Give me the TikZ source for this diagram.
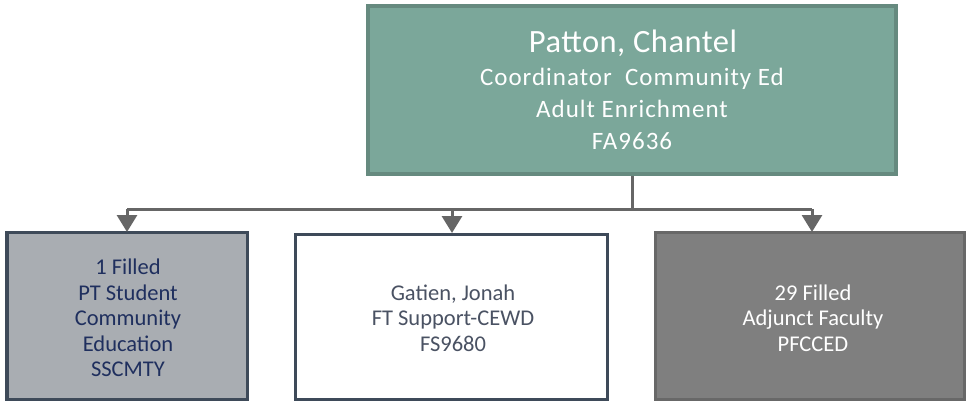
\documentclass[tikz,border=0pt]{standalone}
\usepackage{fontspec}
\setmainfont{Carlito}
\usetikzlibrary{arrows.meta}
\definecolor{topfill}{HTML}{7BA79A}
\definecolor{topline}{HTML}{668A7F}
\definecolor{boxline}{HTML}{3E4A59}
\definecolor{greyfill}{HTML}{A9ADB2}
\definecolor{darkfill}{HTML}{7F7F7F}
\definecolor{darkline}{HTML}{686868}
\definecolor{navytext}{HTML}{1F2F5E}
\definecolor{slatetext}{HTML}{4A5263}
\definecolor{conn}{HTML}{666666}
\tikzset{
  box/.style={draw, line width=3.5pt, inner sep=0pt},
  conn/.style={draw=conn, line width=3pt},
  arr/.style={conn, -{Triangle[length=17pt,width=20pt]}},
  txt/.style={align=center, inner sep=0pt}
}
\begin{document}
\begin{tikzpicture}[x=1pt,y=-1pt]
\useasboundingbox (0,0) rectangle (967,402);
% boxes
\path[box, line width=4pt, draw=topline, fill=topfill] (368,6) rectangle (896,174);
\node[txt, text=white, font=\fontsize{32.5}{32}\selectfont\addfontfeature{LetterSpace=1.5}] (toptitle) at (633,43) {Patton, Chantel};
\node[txt, text=white, font=\fontsize{25}{32}\selectfont\addfontfeature{LetterSpace=4}, anchor=north] (toptext) at (632,68) {Coordinator\ \ Community Ed\\Adult Enrichment\\FA9636};
\coordinate (topc) at (632,176);
\path[box, draw=boxline, fill=greyfill] (7,232.5) rectangle (247.5,399.5);
\path[box, draw=boxline, fill=white] (295.5,234.5) rectangle (607.5,399.5);
\path[box, draw=darkline, fill=darkfill] (655.5,232.5) rectangle (964.5,399.5);
\node[txt, text=navytext, font=\fontsize{22.5}{25.6}\selectfont] (b1) at (128,318) {1 Filled\\PT Student\\Community\\Education\\SSCMTY};
\node[txt, text=slatetext, font=\fontsize{22.5}{25.6}\selectfont] (b2) at (453,318) {Gatien, Jonah\\FT Support-CEWD\\FS9680};
\node[txt, text=white, font=\fontsize{22.5}{25.6}\selectfont] (b3) at (813,318) {29 Filled\\Adjunct Faculty\\PFCCED};
\coordinate (bus) at (632,209);
\coordinate (a1) at (127,232);
\coordinate (a2) at (452,233);
\coordinate (a3) at (812,232);
\draw[conn] (topc) -- (bus);
\draw[conn] (a1 |- bus) -- (a3 |- bus);
\draw[arr] (a1 |- bus) -- (a1);
\draw[arr] (a2 |- bus) -- (a2);
\draw[arr] (a3 |- bus) -- (a3);
\end{tikzpicture}
\end{document}
